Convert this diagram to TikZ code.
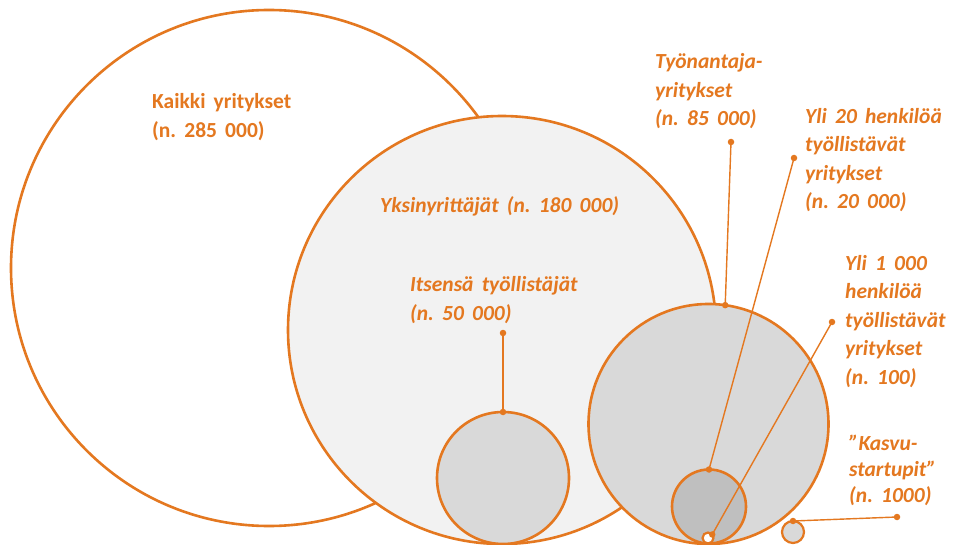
\documentclass[tikz,border=0pt]{standalone}
\usepackage{fontspec}
\setmainfont{Carlito}
\definecolor{org}{RGB}{228,120,32}
\definecolor{g1}{RGB}{242,242,242}
\definecolor{g2}{RGB}{217,217,217}
\definecolor{g3}{RGB}{191,191,191}
\newcommand{\gsp}{\hspace{0.38em}}
\begin{document}
\begin{tikzpicture}[x=1pt,y=-1pt,
 bubble/.style={circle, draw=org, line width=2.6pt, inner sep=0pt, outer sep=0pt},
 small/.style={circle, draw=org, line width=2.2pt, inner sep=0pt, outer sep=0pt},
 conn/.style={draw=org, line width=1.4pt},
 dotc/.style={circle, fill=org, inner sep=0pt, minimum size=6.5pt},
 lbl/.style={text=org, font=\fontsize{21.5}{28.5}\selectfont\bfseries\itshape, align=left, anchor=base west, inner sep=0pt},
 lblup/.style={text=org, font=\fontsize{21.5}{29}\selectfont\bfseries, align=left, anchor=base west, inner sep=0pt},
]
\useasboundingbox (0,0) rectangle (971,545);
\fill[white] (0,0) rectangle (971,545);
% circles
\node[bubble, fill=white, minimum size=516pt] (c1) at (269,268) {};
\node[bubble, fill=g1, minimum size=428pt] (c2) at (502,330) {};
\node[bubble, fill=g2, minimum size=132pt] (c3) at (503,478) {};
\node[bubble, fill=g2, minimum size=240pt] (c4) at (708.5,424) {};
\node[bubble, fill=g3, minimum size=74pt] (c5) at (709,506.5) {};
% labels (anchored at the baseline of the last line)
\node[lblup] (t1) at (152,138) {Kaikki\gsp yritykset\\(n.\gsp 285\gsp 000)};
\node[lbl] (t2) at (380,213) {Yksinyrittäjät\gsp (n.\gsp 180\gsp 000)};
\node[lbl] (t3) at (410,320) {Itsensä\gsp työllistäjät\\(n.\gsp 50\gsp 000)};
\node[lbl] (t4) at (655,126) {Työnantaja-\\yritykset\\(n.\gsp 85\gsp 000)};
\node[lbl] (t5) at (805,209) {Yli\gsp 20\gsp henkilöä\\työllistävät\\yritykset\\(n.\gsp 20\gsp 000)};
\node[lbl] (t6) at (845,384) {Yli\gsp 1\gsp 000\\henkilöä\\työllistävät\\yritykset\\(n.\gsp 100)};
\node[lbl, font=\fontsize{21.5}{26}\selectfont\bfseries\itshape] (t7) at (849,502) {”Kasvu-\\startupit”\\(n.\gsp 1000)};
% connector anchors
\coordinate (p3) at (503,333);
\coordinate (p4) at (731,142);
\coordinate (p5) at (794,158);
\coordinate (p6) at (832,322);
\coordinate (p7) at (897,517);
% connectors
\draw[conn] (p3) -- (c3.north);
\draw[conn] (p4) -- (c4.82);
\draw[conn] (p5) -- (c5.north);
\node[small, fill=white, minimum size=11pt] (c6) at (708,538) {};
\node[small, fill=g2, minimum size=22pt] (c7) at (793,532) {};
\draw[conn] (p6) -- (c6.40);
\draw[conn] (p7) -- (c7.north);
% dots
\foreach \p in {p3,p4,p5,p6,p7,c3.north,c4.82,c5.north,c6.40,c7.north}
  \node[dotc] at (\p) {};
\end{tikzpicture}
\end{document}
